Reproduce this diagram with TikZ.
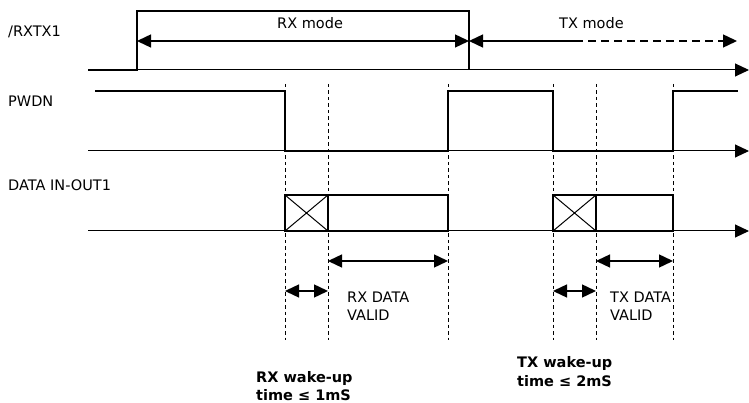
\documentclass[tikz,border=0pt]{standalone}
\usepackage{fontspec}
\setmainfont{DejaVu Sans}
\usetikzlibrary{arrows.meta}
\begin{document}
\begin{tikzpicture}[x=1pt,y=-1pt,
  sig/.style={line width=1.5pt},
  axis/.style={line width=1pt,-{Triangle[length=14pt,width=13pt]}},
  guide/.style={line width=0.9pt,dash pattern=on 3.5pt off 3pt},
  dim/.style={line width=1.4pt,{Triangle[length=14pt,width=13pt]}-{Triangle[length=14pt,width=13pt]}},
  lbl/.style={anchor=base west,inner sep=0pt,font=\fontsize{14.5}{18}\selectfont},
  blbl/.style={anchor=base west,inner sep=0pt,font=\fontsize{14.5}{18}\selectfont\bfseries}
]
\useasboundingbox (0,0) rectangle (749,403);
% x positions
\coordinate (xs) at (88,0);
\coordinate (xps) at (95,0);
\coordinate (xa) at (137,0);
\coordinate (xb) at (469,0);
\coordinate (x1) at (285,0);
\coordinate (x2) at (328,0);
\coordinate (x3) at (448,0);
\coordinate (x4) at (553,0);
\coordinate (x5) at (596,0);
\coordinate (x6) at (673,0);
\coordinate (xpe) at (738,0);
\coordinate (xtx) at (575,0);
\coordinate (xtxe) at (737,0);
\coordinate (xe) at (749,0);
% y positions
\coordinate (yRH) at (0,11);
\coordinate (yRA) at (0,41);
\coordinate (yRL) at (0,70);
\coordinate (yPH) at (0,91);
\coordinate (yPL) at (0,151);
\coordinate (yDT) at (0,195);
\coordinate (yDB) at (0,231);
\coordinate (yV) at (0,261);
\coordinate (yW) at (0,291);
\coordinate (yG1) at (0,84);
\coordinate (yG2) at (0,340);

% labels
\node[lbl] (lrx) at (8,37) {/RXTX1};
\node[lbl] (lpw) at (8,107) {PWDN};
\node[lbl] (ldt) at (8,191) {DATA IN-OUT1};
\node[lbl] (lrxm) at (277,29) {RX mode};
\node[lbl] (ltxm) at (559,29) {TX mode};
\node[lbl] (lrv1) at (347,302) {RX DATA};
\node[lbl] (lrv2) at (347,320) {VALID};
\node[lbl] (ltv1) at (610,302) {TX DATA};
\node[lbl] (ltv2) at (610,320) {VALID};
\node[blbl] (lrw1) at (256,382) {RX wake-up};
\node[blbl] (lrw2) at (256,400) {time ≤ 1mS};
\node[blbl] (ltw1) at (517,367) {TX wake-up};
\node[blbl] (ltw2) at (517,386) {time ≤ 2mS};

% guides
\foreach \x in {x1,x2,x3,x4,x5,x6}
  \draw[guide] (\x |- yG1) -- (\x |- yG2);

% axes
\draw[axis] (xs |- yRL) -- (xe |- yRL);
\draw[axis] (xs |- yPL) -- (xe |- yPL);
\draw[axis] (xs |- yDB) -- (xe |- yDB);

% /RXTX1
\draw[sig] (xs |- yRL) -- (xa |- yRL) -- (xa |- yRH) -- (xb |- yRH) -- (xb |- yRL);
\draw[dim] (xa |- yRA) -- (xb |- yRA);
\draw[line width=1.4pt,{Triangle[length=14pt,width=13pt]}-] (xb |- yRA) -- (xtx |- yRA);
\draw[line width=1.4pt,dash pattern=on 8pt off 5pt,-{Triangle[length=14pt,width=13pt]}] (xtx |- yRA) -- (xtxe |- yRA);

% PWDN
\draw[sig] (xps |- yPH) -- (x1 |- yPH) -- (x1 |- yPL) -- (x3 |- yPL) -- (x3 |- yPH)
  -- (x4 |- yPH) -- (x4 |- yPL) -- (x6 |- yPL) -- (x6 |- yPH) -- (xpe |- yPH);

% DATA
\draw[sig] (x1 |- yDT) rectangle (x2 |- yDB);
\draw[line width=1pt] (x1 |- yDT) -- (x2 |- yDB) (x1 |- yDB) -- (x2 |- yDT);
\draw[sig] (x2 |- yDT) rectangle (x3 |- yDB);
\draw[sig] (x4 |- yDT) rectangle (x5 |- yDB);
\draw[line width=1pt] (x4 |- yDT) -- (x5 |- yDB) (x4 |- yDB) -- (x5 |- yDT);
\draw[sig] (x5 |- yDT) rectangle (x6 |- yDB);

% dimension arrows
\draw[dim] (x2 |- yV) -- (x3 |- yV);
\draw[dim] (x1 |- yW) -- (x2 |- yW);
\draw[dim] (x5 |- yV) -- (x6 |- yV);
\draw[dim] (x4 |- yW) -- (x5 |- yW);
\end{tikzpicture}
\end{document}
